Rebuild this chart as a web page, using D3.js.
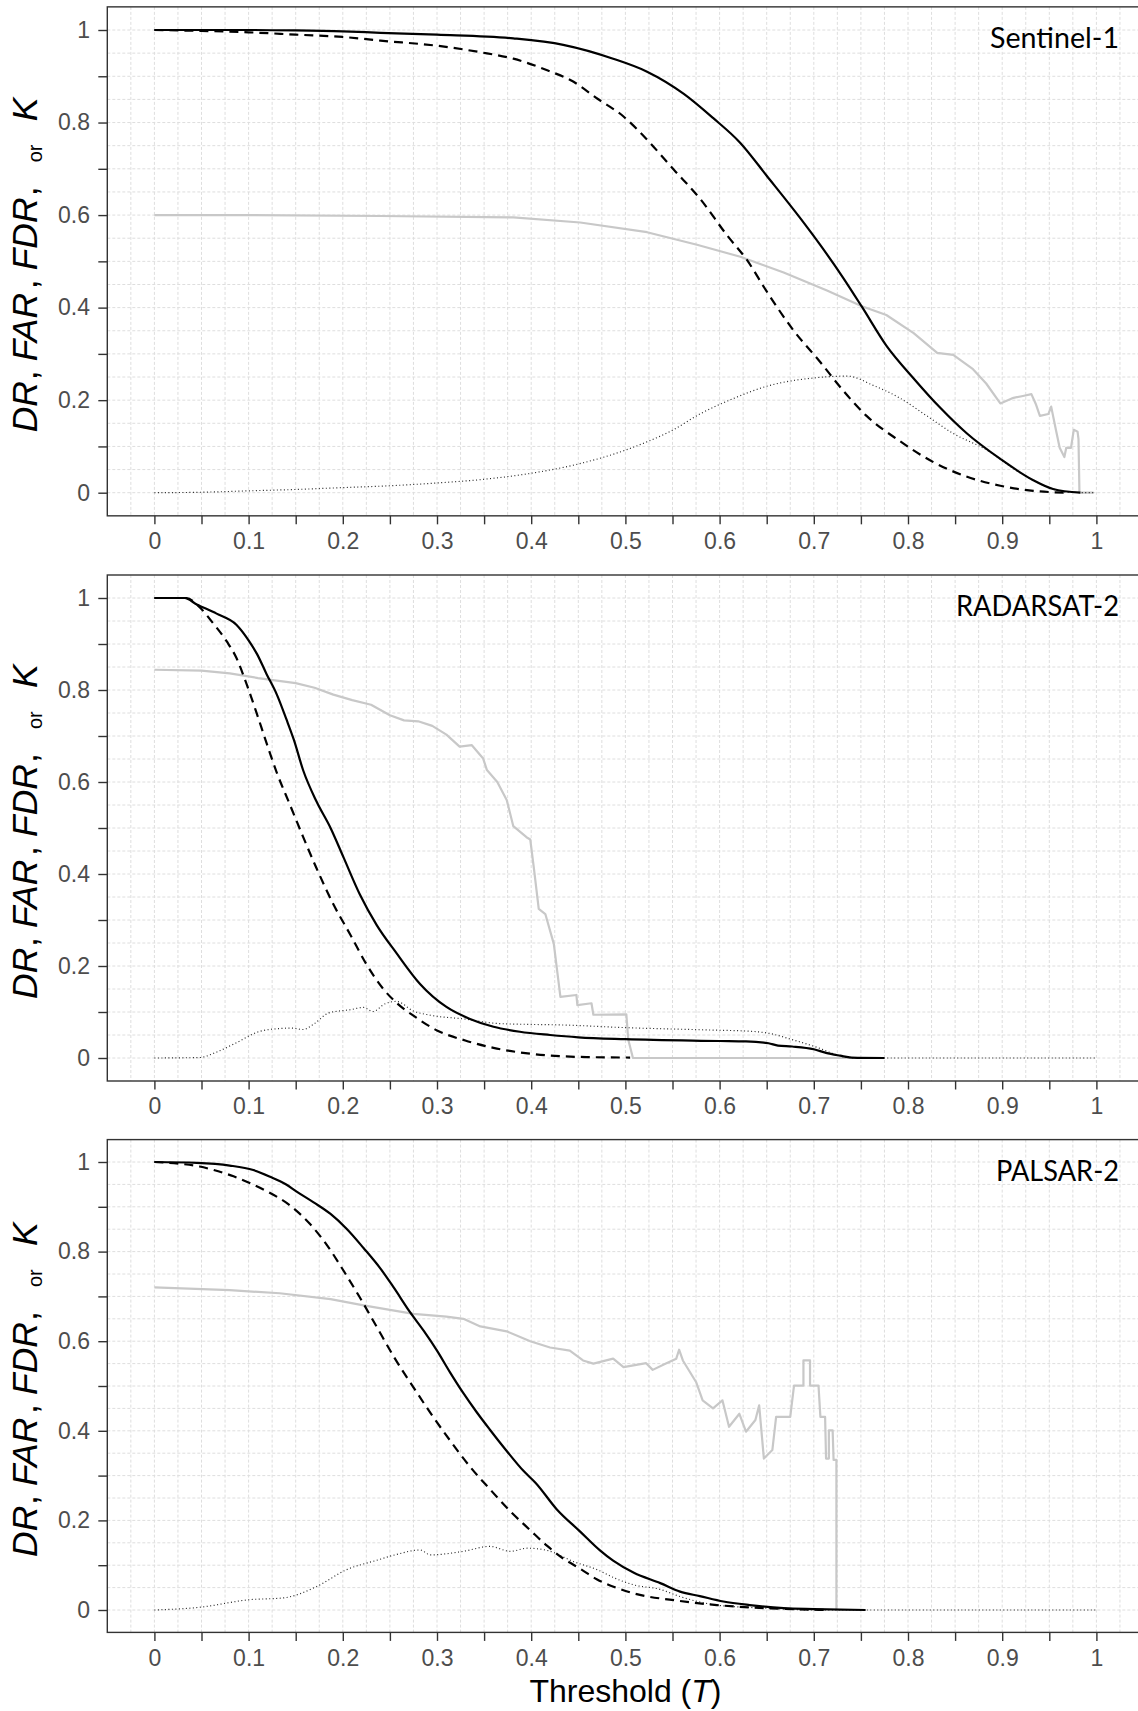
<!DOCTYPE html>
<html>
<head>
<meta charset="utf-8">
<script src="https://cdn.jsdelivr.net/npm/d3@7"></script>
<style>
  body { margin: 0; background: #ffffff; }
  svg { display: block; }
</style>
</head>
<body>
<svg id="chart" width="1138" height="1711"></svg>
<script>
// ---- Data: [threshold T, value] pairs for each sensor ----
const sensors = ["Sentinel-1", "RADARSAT-2", "PALSAR-2"];

const s1DR = [[0,1],[0.1,1],[0.15,0.999],[0.2,0.997],[0.24,0.994],[0.3,0.99],[0.381,0.982],[0.434,0.968],[0.487,0.938],[0.523,0.91],[0.562,0.862],[0.593,0.81],[0.622,0.756],[0.65,0.685],[0.685,0.595],[0.707,0.535],[0.731,0.465],[0.751,0.402],[0.777,0.318],[0.806,0.247],[0.834,0.184],[0.862,0.129],[0.898,0.073],[0.933,0.027],[0.954,0.008],[0.983,0]];
const s1FAR = [[0,1],[0.05,0.998],[0.1,0.995],[0.15,0.99],[0.2,0.985],[0.24,0.977],[0.3,0.966],[0.346,0.952],[0.381,0.938],[0.417,0.913],[0.445,0.888],[0.47,0.852],[0.498,0.813],[0.523,0.763],[0.551,0.699],[0.579,0.636],[0.608,0.556],[0.629,0.503],[0.65,0.435],[0.678,0.352],[0.707,0.282],[0.731,0.221],[0.756,0.166],[0.791,0.112],[0.827,0.066],[0.862,0.035],[0.898,0.015],[0.933,0.004],[0.968,0]];
const s1FDR = [[0,0.6],[0.1,0.6],[0.24,0.598],[0.381,0.595],[0.452,0.584],[0.523,0.563],[0.576,0.536],[0.622,0.51],[0.668,0.476],[0.714,0.437],[0.751,0.403],[0.777,0.384],[0.806,0.345],[0.831,0.302],[0.848,0.298],[0.869,0.267],[0.883,0.236],[0.898,0.193],[0.912,0.205],[0.922,0.209],[0.931,0.213],[0.936,0.19],[0.94,0.166],[0.949,0.17],[0.952,0.186],[0.957,0.136],[0.961,0.097],[0.966,0.077],[0.968,0.097],[0.973,0.097],[0.976,0.136],[0.98,0.132],[0.981,0.116],[0.982,0],[0.997,0]];
const s1K = [[0,0],[0.05,0.001],[0.1,0.004],[0.15,0.007],[0.2,0.011],[0.25,0.015],[0.3,0.021],[0.35,0.029],[0.4,0.042],[0.45,0.062],[0.5,0.092],[0.523,0.11],[0.55,0.135],[0.579,0.17],[0.614,0.203],[0.65,0.23],[0.7,0.248],[0.736,0.252],[0.763,0.232],[0.791,0.205],[0.82,0.166],[0.848,0.128],[0.883,0.093],[0.919,0.043],[0.954,0.008],[0.97,0.001],[0.997,0]];

const s2DR = [[0,1],[0.032,1],[0.045,0.986],[0.066,0.966],[0.087,0.942],[0.1,0.908],[0.109,0.878],[0.119,0.835],[0.13,0.79],[0.14,0.737],[0.148,0.692],[0.158,0.625],[0.172,0.558],[0.187,0.5],[0.201,0.435],[0.218,0.356],[0.236,0.289],[0.257,0.228],[0.282,0.161],[0.31,0.111],[0.335,0.085],[0.36,0.068],[0.388,0.057],[0.42,0.05],[0.45,0.045],[0.5,0.041],[0.6,0.037],[0.628,0.036],[0.652,0.032],[0.662,0.027],[0.677,0.025],[0.7,0.019],[0.713,0.011],[0.728,0.005],[0.74,0.001],[0.775,0]];
const s2FAR = [[0,1],[0.034,1],[0.048,0.98],[0.062,0.946],[0.077,0.905],[0.087,0.87],[0.098,0.812],[0.108,0.753],[0.119,0.685],[0.13,0.62],[0.144,0.55],[0.158,0.48],[0.172,0.413],[0.19,0.334],[0.208,0.268],[0.225,0.204],[0.243,0.15],[0.257,0.12],[0.275,0.092],[0.3,0.06],[0.33,0.038],[0.36,0.022],[0.4,0.009],[0.43,0.004],[0.46,0.002],[0.505,0.001]];
const s2FDR = [[0,0.844],[0.05,0.842],[0.08,0.836],[0.11,0.826],[0.15,0.815],[0.17,0.805],[0.19,0.79],[0.21,0.778],[0.23,0.768],[0.25,0.745],[0.265,0.734],[0.28,0.732],[0.295,0.722],[0.31,0.703],[0.324,0.677],[0.337,0.68],[0.349,0.651],[0.353,0.626],[0.364,0.6],[0.374,0.561],[0.381,0.504],[0.395,0.48],[0.399,0.475],[0.403,0.41],[0.408,0.324],[0.415,0.313],[0.424,0.248],[0.431,0.133],[0.448,0.137],[0.449,0.115],[0.464,0.119],[0.466,0.094],[0.501,0.095],[0.503,0.04],[0.508,0],[0.74,0]];
const s2K = [[0,0],[0.048,0.001],[0.065,0.012],[0.084,0.03],[0.112,0.058],[0.133,0.064],[0.145,0.065],[0.158,0.062],[0.17,0.075],[0.185,0.098],[0.208,0.105],[0.222,0.11],[0.232,0.101],[0.245,0.118],[0.257,0.123],[0.275,0.102],[0.293,0.093],[0.328,0.085],[0.365,0.075],[0.4,0.073],[0.43,0.072],[0.5,0.066],[0.587,0.061],[0.634,0.058],[0.654,0.053],[0.677,0.04],[0.705,0.022],[0.724,0.007],[0.736,0.001],[0.75,0],[1,0]];

const s3DR = [[0,1],[0.045,0.998],[0.08,0.992],[0.105,0.982],[0.123,0.967],[0.139,0.951],[0.151,0.934],[0.169,0.91],[0.187,0.884],[0.204,0.851],[0.222,0.808],[0.24,0.762],[0.254,0.72],[0.271,0.666],[0.286,0.623],[0.3,0.579],[0.314,0.53],[0.328,0.484],[0.342,0.442],[0.356,0.403],[0.374,0.355],[0.392,0.31],[0.405,0.283],[0.427,0.225],[0.452,0.175],[0.473,0.133],[0.487,0.11],[0.509,0.083],[0.537,0.06],[0.558,0.041],[0.579,0.031],[0.604,0.019],[0.632,0.011],[0.668,0.004],[0.7,0.002],[0.755,0]];
const s3FAR = [[0,1],[0.027,0.996],[0.048,0.99],[0.063,0.982],[0.084,0.968],[0.098,0.956],[0.119,0.935],[0.144,0.903],[0.165,0.862],[0.183,0.815],[0.2,0.76],[0.218,0.698],[0.236,0.632],[0.254,0.566],[0.275,0.497],[0.293,0.44],[0.314,0.378],[0.335,0.32],[0.356,0.27],[0.378,0.22],[0.399,0.178],[0.417,0.143],[0.434,0.115],[0.452,0.092],[0.47,0.068],[0.49,0.05],[0.509,0.037],[0.555,0.021],[0.597,0.011],[0.65,0.004],[0.714,0]];
const s3FDR = [[0,0.72],[0.08,0.714],[0.133,0.707],[0.187,0.694],[0.222,0.68],[0.275,0.661],[0.31,0.655],[0.328,0.65],[0.346,0.633],[0.374,0.622],[0.399,0.6],[0.42,0.586],[0.441,0.579],[0.455,0.557],[0.466,0.55],[0.487,0.561],[0.498,0.542],[0.522,0.551],[0.529,0.536],[0.543,0.55],[0.554,0.561],[0.557,0.581],[0.561,0.557],[0.575,0.509],[0.582,0.468],[0.593,0.45],[0.603,0.468],[0.61,0.409],[0.621,0.438],[0.628,0.398],[0.638,0.424],[0.642,0.457],[0.647,0.338],[0.656,0.357],[0.66,0.431],[0.675,0.431],[0.679,0.501],[0.689,0.501],[0.689,0.557],[0.696,0.557],[0.696,0.501],[0.705,0.501],[0.707,0.431],[0.712,0.431],[0.713,0.338],[0.716,0.338],[0.716,0.401],[0.72,0.401],[0.721,0.335],[0.724,0.335],[0.724,0],[0.75,0]];
const s3K = [[0,0],[0.048,0.006],[0.101,0.023],[0.137,0.027],[0.172,0.052],[0.204,0.09],[0.236,0.111],[0.257,0.124],[0.282,0.134],[0.293,0.123],[0.328,0.131],[0.356,0.142],[0.378,0.131],[0.396,0.138],[0.417,0.133],[0.445,0.108],[0.47,0.09],[0.49,0.07],[0.509,0.056],[0.537,0.046],[0.558,0.03],[0.597,0.011],[0.65,0.004],[0.7,0],[1,0]];

// ---- Axis ticks and labels ----
const xTicks = d3.range(0, 21).map(i => i * 0.05);
const xTickLabels = ["0","0.1","0.2","0.3","0.4","0.5","0.6","0.7","0.8","0.9","1"];
const yTicks = d3.range(0, 11).map(i => i * 0.1);
const yTickLabels = ["0","0.2","0.4","0.6","0.8","1"];

// ---- Layout ----
const svg = d3.select("#chart");
const tickFont = "'Liberation Sans', Arial, sans-serif";

const x = d3.scaleLinear().domain([-0.05, 1.05]).range([107.3, 107.3 + 942 * 1.1]);

const panels = [
  { label: sensors[0], lines: { fdr: s1FDR, k: s1K, far: s1FAR, dr: s1DR }, y1: 30,   y0: 492.7, labelW: 129 },
  { label: sensors[1], lines: { fdr: s2FDR, k: s2K, far: s2FAR, dr: s2DR }, y1: 598,  y0: 1058,  labelW: 163 },
  { label: sensors[2], lines: { fdr: s3FDR, k: s3K, far: s3FAR, dr: s3DR }, y1: 1162, y0: 1610,  labelW: 123 }
];

// FDR keeps its vertical steps, so it is drawn with straight segments;
// the other rates are smooth curves.
const lineStyles = {
  fdr: { stroke: "#c8c8c8", width: 2.2, dash: null,      curve: d3.curveLinear },
  k:   { stroke: "#222222", width: 1.15, dash: "1,2.5",  curve: d3.curveMonotoneX },
  far: { stroke: "#000000", width: 2.2, dash: "9,6",     curve: d3.curveMonotoneX },
  dr:  { stroke: "#000000", width: 2.2, dash: null,      curve: d3.curveMonotoneX }
};

const fmtX = d => {
  const i = Math.round(d / 0.1 * 1000) / 1000;
  return Number.isInteger(i) ? xTickLabels[i] : "";
};
const fmtY = d => {
  const i = Math.round(d / 0.2 * 1000) / 1000;
  return Number.isInteger(i) ? yTickLabels[i] : "";
};

// y-axis title pieces, offsets along the baseline
const yTitleParts = [
  { t: "DR",  at: 0,   it: true },
  { t: ",",   at: 52,  it: false },
  { t: "FAR", at: 71,  it: true },
  { t: ",",   at: 143, it: false },
  { t: "FDR", at: 162, it: true },
  { t: ",",   at: 236, it: false },
  { t: "or",  at: 270, it: false, small: true },
  { t: "K",   at: 311, it: true }
];

panels.forEach((p, pi) => {
  const unit = p.y0 - p.y1;
  const y = d3.scaleLinear().domain([-0.05, 1.05]).range([p.y0 + 0.05 * unit, p.y1 - 0.05 * unit]);
  const top = y(1.05), bottom = y(-0.05), left = x(-0.05), right = x(1.05);

  const g = svg.append("g");
  const clipId = "clip" + pi;
  g.append("clipPath").attr("id", clipId)
    .append("rect").attr("x", left).attr("y", top).attr("width", right - left).attr("height", bottom - top);

  // background grid
  const grid = g.append("g").attr("clip-path", `url(#${clipId})`);
  grid.selectAll("line.v").data(d3.range(-1, 42).map(i => i * 0.025)).join("line")
    .attr("x1", d => x(d)).attr("x2", d => x(d)).attr("y1", top).attr("y2", bottom)
    .attr("stroke", "#dedede").attr("stroke-width", 1).attr("stroke-dasharray", "3,2");
  grid.selectAll("line.h").data(d3.range(0, 21).map(i => i * 0.05)).join("line")
    .attr("y1", d => y(d)).attr("y2", d => y(d)).attr("x1", left).attr("x2", right)
    .attr("stroke", "#dedede").attr("stroke-width", 1).attr("stroke-dasharray", "3,2");

  // curves
  const curves = g.append("g").attr("clip-path", `url(#${clipId})`);
  ["fdr", "k", "far", "dr"].forEach(key => {
    const st = lineStyles[key];
    const line = d3.line().x(d => x(d[0])).y(d => y(d[1])).curve(st.curve);
    curves.append("path").datum(p.lines[key])
      .attr("d", line).attr("fill", "none")
      .attr("stroke", st.stroke).attr("stroke-width", st.width)
      .attr("stroke-linejoin", "round")
      .attr("stroke-dasharray", st.dash);
  });

  // panel border
  g.append("rect").attr("x", left).attr("y", top).attr("width", right - left).attr("height", bottom - top)
    .attr("fill", "none").attr("stroke", "#333333").attr("stroke-width", 1.4);

  // axes
  const ax = g.append("g").attr("transform", `translate(0,${bottom})`)
    .call(d3.axisBottom(x).tickValues(xTicks).tickFormat(fmtX).tickSize(8.5).tickPadding(8.5));
  const ay = g.append("g").attr("transform", `translate(${left},0)`)
    .call(d3.axisLeft(y).tickValues(yTicks).tickFormat(fmtY).tickSize(9).tickPadding(8.3));
  [ax, ay].forEach(a => {
    a.select(".domain").remove();
    a.selectAll(".tick line").attr("stroke", "#333333").attr("stroke-width", 1.4);
    a.selectAll(".tick text").attr("fill", "#4d4d4d").style("font-family", tickFont).style("font-size", "23px");
  });

  // sensor name
  g.append("text").attr("x", 1119).attr("y", top + 41)
    .attr("text-anchor", "end")
    .attr("textLength", p.labelW).attr("lengthAdjust", "spacingAndGlyphs")
    .style("font-family", "Lato, 'Open Sans', sans-serif").style("font-size", "28px").attr("fill", "#000")
    .text(p.label);

  // y-axis title
  const cy = (top + bottom) / 2;
  const yt = g.append("text")
    .attr("transform", `translate(37,${cy + 171}) rotate(-90)`)
    .style("font-family", tickFont).style("font-size", "35.5px").attr("fill", "#000");
  yTitleParts.forEach(pt => {
    yt.append("tspan").attr("x", pt.at).attr("y", pt.small ? 5 : 0)
      .style("font-style", pt.it ? "italic" : "normal")
      .style("font-size", pt.small ? "20px" : null)
      .text(pt.t);
  });
});

// x-axis title
const xt = svg.append("text").attr("x", x(0.5)).attr("y", 1701.7).attr("text-anchor", "middle")
  .style("font-family", tickFont).style("font-size", "32px").attr("fill", "#000");
xt.append("tspan").text("Threshold (");
xt.append("tspan").style("font-style", "italic").text("T");
xt.append("tspan").text(")");
</script>
</body>
</html>
